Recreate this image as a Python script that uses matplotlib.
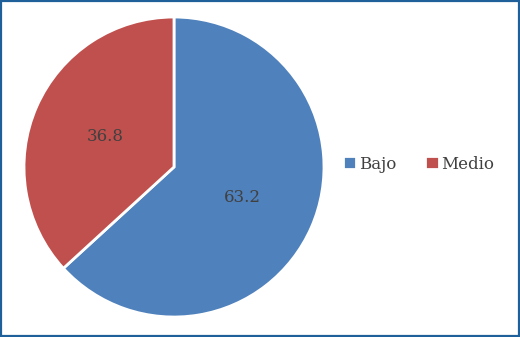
import matplotlib
matplotlib.use("Agg")
import matplotlib.pyplot as plt
from matplotlib.patches import Rectangle

categorias = ["Bajo", "Medio"]
valores = [63.2, 36.8]
colores = ["#4F81BD", "#C0504D"]

plt.rcParams['font.family'] = ['DejaVu Serif']

fig = plt.figure(figsize=(5.2, 3.37), dpi=100)
ax = fig.add_axes([0.04615, 0.0593, 0.5769, 0.8902])

wedges, textos = ax.pie(valores, colors=colores, startangle=90, counterclock=False,
                        labels=[f"{v:.1f}" for v in valores], labeldistance=0.5,
                        wedgeprops=dict(edgecolor="white", linewidth=2),
                        textprops=dict(color="#404040", fontsize=12, ha="center", va="center"))
ax.set_aspect("auto")
ax.set_xlim(-1, 1)
ax.set_ylim(-1, 1)

fig.legend(wedges, categorias, loc="center left", bbox_to_anchor=(0.659, 0.513),
           ncol=2, frameon=False, fontsize=12, handlelength=0.8, handleheight=0.8,
           handletextpad=0.16, columnspacing=1.75, borderpad=0, borderaxespad=0,
           labelcolor="#404040")

fig.patches.append(Rectangle((0.002, 0.003), 0.996, 0.994, transform=fig.transFigure,
                             fill=False, edgecolor="#1F5F9A", linewidth=1.6))

fig.savefig("out.png", dpi=100)
